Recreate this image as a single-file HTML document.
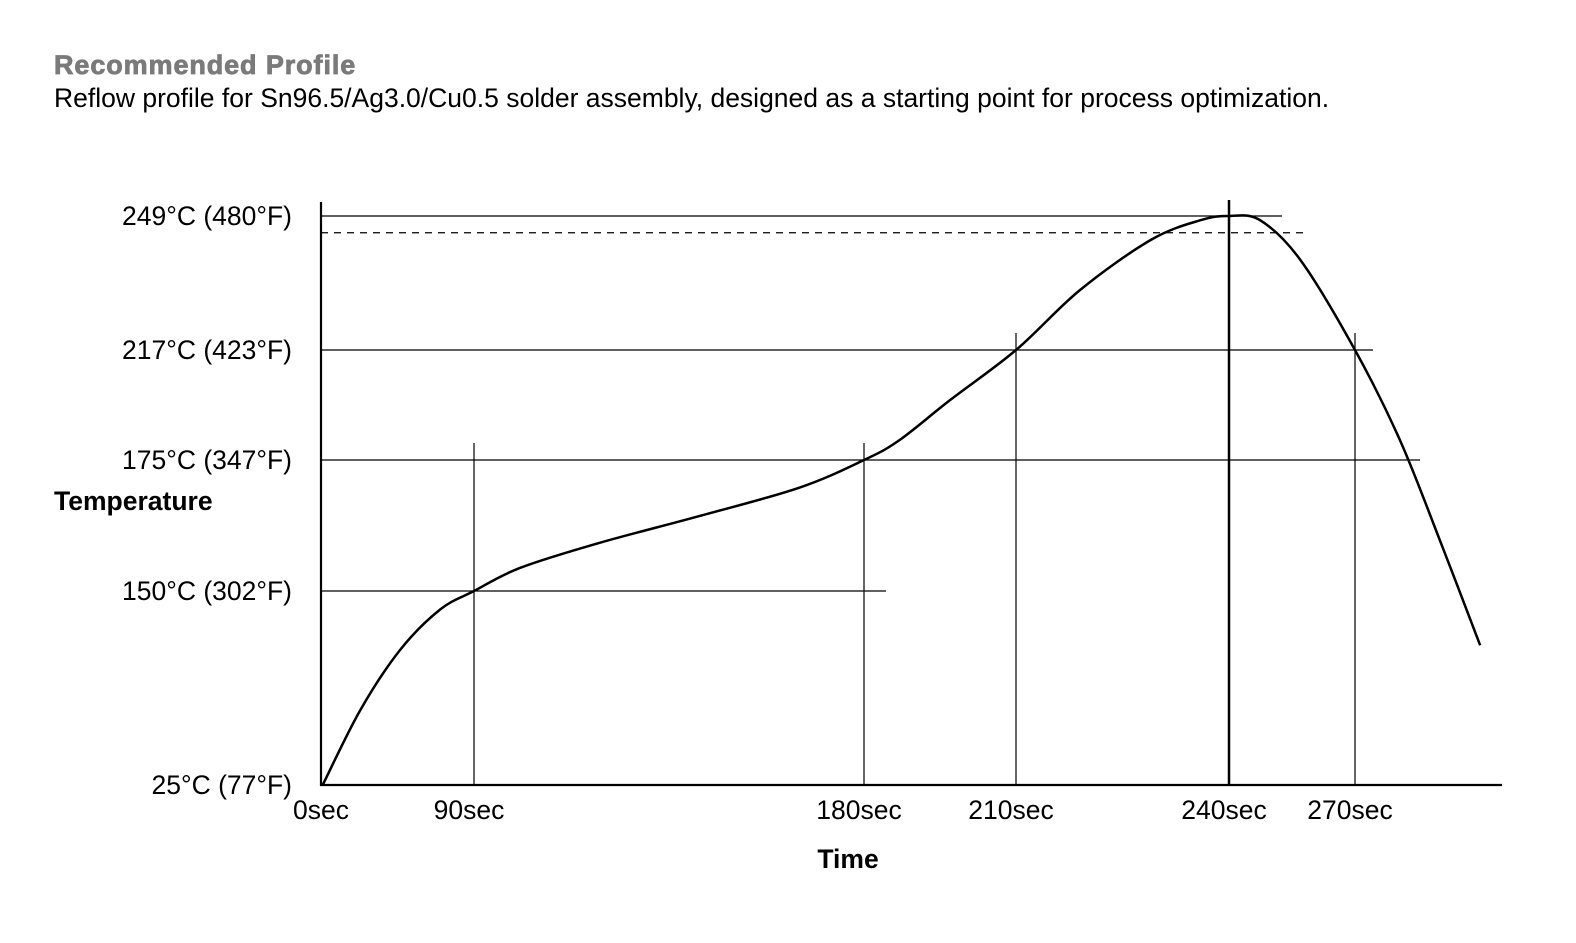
<!DOCTYPE html>
<html><head><meta charset="utf-8">
<style>
html,body{margin:0;padding:0;background:#fff;}
body{width:1576px;height:938px;overflow:hidden;font-family:"Liberation Sans",Arial,sans-serif;}
</style></head>
<body>
<svg id="chart" width="1576" height="938" xmlns="http://www.w3.org/2000/svg" font-family="Liberation Sans, Arial, sans-serif">
<text x="54" y="74" font-size="27" font-weight="bold" fill="#7a7a7a" stroke="#7a7a7a" stroke-width="0.8" letter-spacing="0.9">Recommended Profile</text>
<text x="54" y="107" font-size="26.5" fill="#000">Reflow profile for Sn96.5/Ag3.0/Cu0.5 solder assembly, designed as a starting point for process optimization.</text>
<text x="54" y="510" font-size="26.5" font-weight="bold">Temperature</text>
<text x="848" y="868" font-size="26.5" font-weight="bold" text-anchor="middle">Time</text>
<g id="grid"></g>
<g id="axes"></g>
<g id="labels"></g>
<path id="curve" fill="none" stroke="#000" stroke-width="2.5"/>
</svg>
<script>
// data
const xTicks = [0, 90, 180, 210, 240, 270];
const xTickLabels = ["0sec", "90sec", "180sec", "210sec", "240sec", "270sec"];
const yTicks = [25, 150, 175, 217, 249];
const yTickLabels = ["25°C (77°F)", "150°C (302°F)", "175°C (347°F)", "217°C (423°F)", "249°C (480°F)"];
const curveTime = [1, 23, 46.5, 70, 90, 100.6, 119, 142, 165, 180, 187, 197, 210, 219, 229, 236, 240, 247.4, 257, 270, 280.7, 290.2, 299.8];
const curveTemp = [25, 73, 112, 138, 150, 154.4, 159.2, 164.3, 169.7, 175, 182.6, 197.9, 217, 231.3, 243.3, 248, 249, 248, 238.5, 217, 182.6, 159.7, 115];
const peakDashTemp = 245;

// layout (schematic, non-linear axis anchors)
const xPix = [321, 474, 864, 1016, 1229, 1355];
const yPix = [785, 591, 460, 350, 216];
function interp(v, vals, pix){
  let i = 0;
  if (v >= vals[vals.length-1]) i = vals.length-2;
  else while (i < vals.length-2 && v > vals[i+1]) i++;
  const t = (v - vals[i]) / (vals[i+1] - vals[i]);
  return pix[i] + t * (pix[i+1] - pix[i]);
}
const X = v => interp(v, xTicks, xPix);
const Y = v => interp(v, yTicks, yPix);

const NS = "http://www.w3.org/2000/svg";
function mk(tag, attrs, parent){
  const e = document.createElementNS(NS, tag);
  for (const k in attrs) e.setAttribute(k, attrs[k]);
  parent.appendChild(e); return e;
}
const grid = document.getElementById('grid');
const axes = document.getElementById('axes');
const labels = document.getElementById('labels');

const hEnd = [null, 886, 1420, 1373, 1282];
yTicks.forEach((v, i) => {
  if (hEnd[i] === null) return;
  const l = mk('line', {x1: X(0), x2: hEnd[i], y1: Y(v), y2: Y(v), stroke: '#000', 'stroke-width': 1.2}, grid);
  
  
});
const dl = mk('line', {x1: X(0), x2: 1307, y1: Y(peakDashTemp), y2: Y(peakDashTemp), stroke: '#000', 'stroke-width': 1.2, 'stroke-dasharray': '7,6'}, grid);



const vTop = [null, 175, 175, 217, 249, 217];
xTicks.forEach((v, i) => {
  if (vTop[i] === null) return;
  const top = v === 240 ? 200 : Y(vTop[i]) - 17;
  const l = mk('line', {x1: X(v), x2: X(v), y1: top, y2: Y(25), stroke: '#000', 'stroke-width': v === 240 ? 2.5 : 1.2}, grid);
  
  
});

const ya = mk('line', {x1: 321, x2: 321, y1: 202, y2: 786, stroke: '#000', 'stroke-width': 2.2}, axes);


const xa = mk('line', {x1: 320, x2: 1502, y1: 785, y2: 785, stroke: '#000', 'stroke-width': 2.2}, axes);



yTicks.forEach((v, i) => {
  const t = mk('text', {x: 292, y: Y(v) + 9, 'font-size': 26.5, 'text-anchor': 'end'}, labels);
  t.textContent = yTickLabels[i];
  
  
});
xTicks.forEach((v, i) => {
  const t = mk('text', {x: X(v) + (i === 0 ? 0 : -5), y: 819, 'font-size': 26.5, 'text-anchor': 'middle'}, labels);
  t.textContent = xTickLabels[i];
  
  
});

const pts = curveTime.map((t, i) => [X(t), Y(curveTemp[i])]);
let d = 'M' + pts[0][0] + ',' + pts[0][1];
for (let i = 0; i < pts.length - 1; i++) {
  const p0 = pts[Math.max(0, i-1)], p1 = pts[i], p2 = pts[i+1], p3 = pts[Math.min(pts.length-1, i+2)];
  const c1 = [p1[0] + (p2[0]-p0[0])/6, p1[1] + (p2[1]-p0[1])/6];
  const c2 = [p2[0] - (p3[0]-p1[0])/6, p2[1] - (p3[1]-p1[1])/6];
  d += ' C' + c1.join(',') + ' ' + c2.join(',') + ' ' + p2.join(',');
}
document.getElementById('curve').setAttribute('d', d);
</script>
</body></html>
